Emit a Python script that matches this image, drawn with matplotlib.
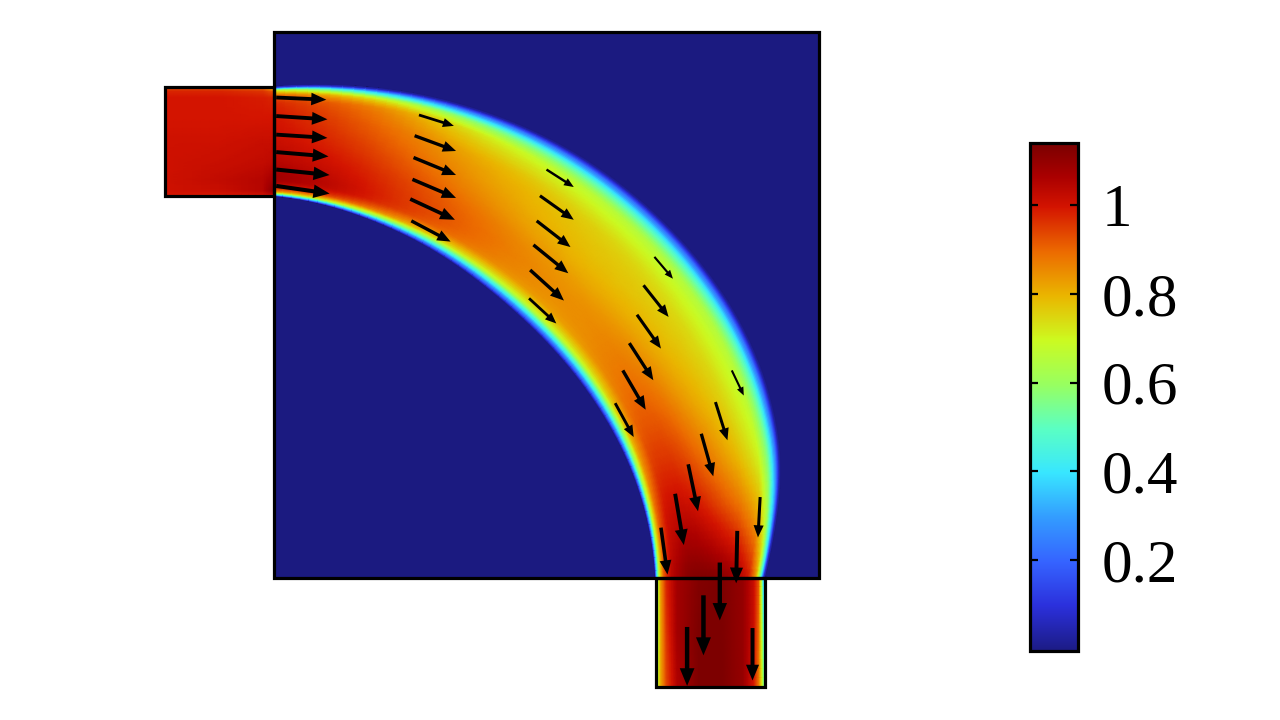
import numpy as np
from matplotlib import pyplot as plt
from matplotlib.colors import LinearSegmentedColormap, Normalize

plt.rcParams['font.family'] = ['Liberation Serif', 'DejaVu Serif']

# colour scale
cmap_values = [-.005, .1, .2, .3, .4, .5, .6, .7, .8, .9, 1.0, 1.07, 1.14]
cmap_colors = ['#1b1a80', '#2b30dc', '#3563ff', '#339cff', '#38e6ff', '#5affc4', '#98ff60',
               '#ccfa20', '#eab600', '#ec6a00', '#d41400', '#aa0000', '#7d0000']
vmin = -.005
vmax = 1.14
tick_values = [.2, .4, .6, .8, 1]
tick_labels = ['0.2', '0.4', '0.6', '0.8', '1']

# curved band: angle (deg), inner and outer radius
band_angle = np.array([90, 82, 74, 66, 58, 50, 42, 34, 26, 18, 12, 6, 0])
band_inner = np.array([3.50, 3.45, 3.39, 3.35, 3.31, 3.29, 3.30, 3.33, 3.37, 3.42, 3.45, 3.48, 3.50])
band_outer = np.array([4.50, 4.55, 4.62, 4.68, 4.75, 4.80, 4.84, 4.87, 4.88, 4.83, 4.76, 4.62, 4.50])
band_frac = np.array([0, .015, .04, .08, .15, .3, .5, .7, .85, .92, .97, 1])
band_field = np.array([
    [0, .45, .85, 1.0, 1.10, 1.05, 1.02, 1.0, .98, .92, .70, 0],
    [0, .30, .72, .96, 1.05, 1.02, .98, .95, .92, .80, .42, 0],
    [0, .25, .58, .88, .98, .97, .93, .88, .83, .66, .28, 0],
    [0, .20, .48, .78, .93, .93, .87, .82, .73, .56, .24, 0],
    [0, .18, .42, .72, .88, .89, .83, .79, .69, .51, .22, 0],
    [0, .18, .40, .70, .85, .86, .80, .77, .67, .49, .21, 0],
    [0, .18, .40, .70, .84, .85, .79, .76, .66, .48, .21, 0],
    [0, .18, .42, .72, .86, .87, .80, .75, .66, .48, .21, 0],
    [0, .20, .48, .78, .90, .90, .81, .75, .66, .49, .21, 0],
    [0, .25, .58, .84, .95, .95, .86, .77, .68, .51, .22, 0],
    [0, .30, .68, .90, 1.0, 1.0, .92, .82, .73, .56, .26, 0],
    [0, .35, .72, .93, 1.03, 1.08, 1.02, .95, .85, .66, .33, 0],
    [0, .40, .72, .93, 1.05, 1.13, 1.14, 1.10, 1.0, .85, .45, 0],
])

# left port
left_x = np.array([-1, -.5, -.1, 0])
left_y = np.array([3.5, 3.52, 3.56, 3.65, 3.8, 4.0, 4.2, 4.4, 4.46, 4.5])
left_field = np.array([
    [.96, 1.0, 1.01, 1.01, 1.01, 1.01, 1.0, 1.0, .98, .92],
    [.95, 1.0, 1.02, 1.03, 1.02, 1.01, 1.0, 1.0, .98, .92],
    [.93, 1.02, 1.05, 1.05, 1.03, 1.02, 1.0, .99, .96, .88],
    [.88, 1.06, 1.12, 1.08, 1.04, 1.02, 1.0, .98, .92, .72],
])

# bottom port
bottom_x = np.array([3.5, 3.52, 3.55, 3.6, 3.7, 3.9, 4.1, 4.3, 4.4, 4.45, 4.48, 4.5])
bottom_y = np.array([0, -.5, -1])
bottom_field = np.array([
    [.40, .62, .84, .98, 1.08, 1.13, 1.14, 1.10, 1.02, .92, .60, .30],
    [.45, .62, .82, .96, 1.08, 1.14, 1.14, 1.10, 1.02, .90, .66, .45],
    [.55, .66, .82, .94, 1.06, 1.14, 1.14, 1.10, 1.0, .88, .72, .55],
])

# arrows, tail and tip
tail_x = [.02, .02, .02, .02, .02, .02,
          1.33, 1.29, 1.28, 1.27, 1.25, 1.26,
          2.50, 2.44, 2.41, 2.38, 2.35, 2.34,
          3.49, 3.39, 3.33, 3.26, 3.20, 3.13,
          4.20, 4.05, 3.92, 3.80, 3.68, 3.55,
          4.46, 4.25, 4.09, 3.94, 3.79, 4.39]
tail_y = [4.40, 4.23, 4.06, 3.90, 3.74, 3.59,
          4.24, 4.05, 3.85, 3.65, 3.47, 3.27,
          3.74, 3.50, 3.27, 3.05, 2.82, 2.56,
          2.94, 2.68, 2.41, 2.15, 1.90, 1.60,
          1.90, 1.61, 1.32, 1.04, .77, .46,
          .74, .43, .14, -.16, -.45, -.46]
tip_x = [.48, .49, .49, .50, .51, .51,
         1.65, 1.67, 1.67, 1.67, 1.66, 1.62,
         2.75, 2.75, 2.72, 2.70, 2.66, 2.59,
         3.66, 3.62, 3.55, 3.48, 3.41, 3.30,
         4.31, 4.16, 4.03, 3.89, 3.76, 3.61,
         4.44, 4.24, 4.09, 3.94, 3.79, 4.39]
tip_y = [4.38, 4.20, 4.03, 3.86, 3.69, 3.52,
         4.14, 3.91, 3.69, 3.48, 3.28, 3.08,
         3.58, 3.28, 3.03, 2.79, 2.54, 2.33,
         2.74, 2.39, 2.10, 1.81, 1.54, 1.29,
         1.67, 1.26, .93, .61, .30, .03,
         .37, -.05, -.39, -.71, -.99, -.94]


def refine(table, n=6):
    # finer drawing mesh over the read table, so the shading goes through the colormap
    table = np.asarray(table, dtype=float)
    idx = np.arange(table.shape[0])
    fine = np.linspace(0, idx[-1], idx[-1] * n + 1)
    return np.apply_along_axis(lambda col: np.interp(fine, idx, col), 0, table)


def smooth(table, n=9):
    # rounds the kinks between read rows, ends stay where they were read
    pad = n // 2
    kernel = np.ones(n) / n
    out = table.copy()
    padded = np.pad(table, ((pad, pad), (0, 0)), mode='reflect', reflect_type='odd')
    for j in range(table.shape[1]):
        out[:, j] = np.convolve(padded[:, j], kernel, mode='valid')
    return out


def fine_grid(table):
    return refine(refine(table).T).T


cmap = LinearSegmentedColormap.from_list('field', [((v - vmin) / (vmax - vmin), c) for v, c in zip(cmap_values, cmap_colors)], N=512)
norm = Normalize(vmin, vmax)

fig = plt.figure(figsize=(12.8, 7.2), dpi=100)
W, H = 1280, 720
ax = fig.add_axes([165 / W, 1 - 687 / H, 654 / W, 655 / H])
ax.set_xlim(-1, 5)
ax.set_ylim(-1, 5)
ax.axis('off')

ax.add_patch(plt.Rectangle((0, 0), 5, 5, fc=cmap(norm(vmin)), ec='none', zorder=1))

# band mesh in polar form
th = smooth(refine(np.radians(band_angle)[:, None]))
inner = smooth(refine(band_inner[:, None]))
outer = smooth(refine(band_outer[:, None]))
frac = refine(band_frac[:, None]).T
rr = inner + frac * (outer - inner)
field = smooth(smooth(fine_grid(band_field)).T, n=5).T
mesh = ax.pcolormesh(rr * np.cos(th), rr * np.sin(th), field, cmap=cmap, norm=norm,
                     shading='gouraud', zorder=2)
ax.pcolormesh(refine(left_x[:, None])[:, 0], refine(left_y[:, None])[:, 0], fine_grid(left_field).T,
              cmap=cmap, norm=norm, shading='gouraud', zorder=2)
ax.pcolormesh(refine(bottom_x[:, None])[:, 0], refine(bottom_y[:, None])[:, 0], fine_grid(bottom_field),
              cmap=cmap, norm=norm, shading='gouraud', zorder=2)

# outlines
for x0, y0, w, h in [(0, 0, 5, 5), (-1, 3.5, 1, 1), (3.5, -1, 1, 1)]:
    ax.add_patch(plt.Rectangle((x0, y0), w, h, fc='none', ec='black', lw=2.3, zorder=3, clip_on=False))

for x0, y0, x1, y1 in zip(tail_x, tail_y, tip_x, tip_y):
    L = np.hypot(x1 - x0, y1 - y0)
    ax.arrow(x0, y0, x1 - x0, y1 - y0, width=.075 * L, head_width=.25 * L, head_length=.3 * L,
             length_includes_head=True, fc='black', ec='none', zorder=4, clip_on=False)

cax = fig.add_axes([1030 / W, 1 - 651 / H, 48 / W, 508 / H])
cbar = fig.colorbar(mesh, cax=cax, ticks=tick_values)
cbar.ax.set_yticklabels(tick_labels)
cbar.solids.set_edgecolor('face')
cbar.outline.set_linewidth(2.3)
cbar.ax.tick_params(direction='in', left=True, right=True, length=6, width=1.6, labelsize=44, pad=17)

fig.savefig('out.png', dpi=100)
